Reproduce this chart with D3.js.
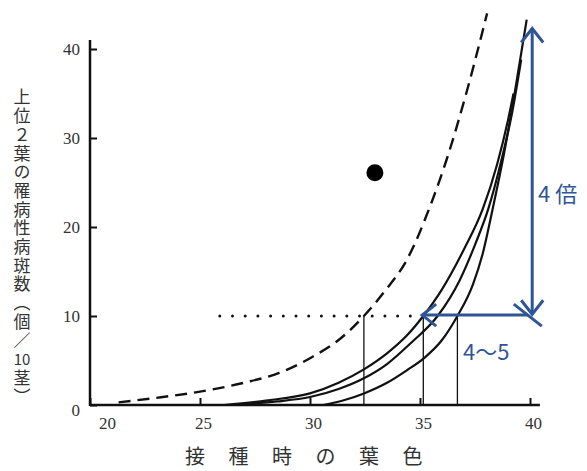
<!DOCTYPE html>
<html>
<head>
<meta charset="utf-8">
<script src="https://cdn.jsdelivr.net/npm/d3@7"></script>
<style>
  body { margin: 0; background: #fff; }
  svg { display: block; }
  .tick text { font-family: "Liberation Serif", "DejaVu Serif", serif; font-size: 17px; fill: #333; }
  .tick line { stroke: #111; stroke-width: 2; }
  .jp { font-family: "Noto Sans CJK JP", sans-serif; font-size: 17px; fill: #333; }
  .vert { writing-mode: vertical-rl; text-orientation: mixed; letter-spacing: 1.7px; }
  .note { font-family: "Noto Sans CJK JP", "Noto Sans", sans-serif; font-size: 22px; fill: #2f5597; }
</style>
</head>
<body>
<svg id="chart"></svg>
<script>
// axis ticks
const xTicks = [20, 25, 30, 35, 40];
const yTicks = [0, 10, 20, 30, 40];

// curves: [leaf colour, lesions per 10 stems]
const dashedCurve = [[21.3, 0.3], [23, 0.8], [25, 1.5], [27, 2.5], [28.6, 3.6], [30.1, 5.4], [31.4, 7.5],
  [32.45, 10], [33.4, 12.8], [34.4, 16.3], [35.5, 22.6], [36.2, 27.5], [37.1, 35], [38.05, 44]];
const solidA = [[26.1, 0], [28, 0.5], [30, 1.3], [31.3, 2.5], [32.45, 4.0], [33.5, 5.8], [34.4, 7.8],
  [35.15, 10], [36, 13], [37, 17.5], [37.85, 22], [38.5, 27], [39, 32], [39.25, 35]];
const solidB = [[26.4, 0], [28.5, 0.4], [30, 0.9], [31.3, 1.8], [32.45, 3.0], [33.5, 4.6], [34.6, 7],
  [35.8, 10], [36.8, 14], [37.5, 18], [38.1, 22], [38.7, 27.5], [39.2, 33], [39.6, 38.8]];
const solidC = [[30.6, 0], [31.5, 0.5], [32.45, 1.3], [33.5, 2.5], [34.4, 3.9], [35.2, 5.3], [36, 7.3],
  [36.7, 10], [37.4, 13.5], [37.85, 17], [38.3, 22], [38.8, 28], [39.3, 35], [39.85, 43.3]];

// reference lines at 10 lesions
const dottedFrom = 25.9;
const dropLines = [32.45, 35.15, 36.7];
const dotPoint = [32.95, 26.1];

const yTitleTop = '上位２葉の罹病性病斑数（個／';
const yTitleNum = '10';
const yTitleEnd = '茎）';
const xTitle = ['接', '種', '時', 'の', '葉', '色'];

const width = 587, height = 471;
const svg = d3.select('#chart').attr('width', width).attr('height', height);

const x = d3.scaleLinear().domain([20, 40]).range([90, 530]);
const y = d3.scaleLinear().domain([0, 10]).range([405, 316]);

// axes (ticks point inward)
svg.append('g')
    .attr('transform', `translate(0,${y(0)})`)
    .call(d3.axisBottom(x).tickValues(xTicks).tickSize(-7).tickSizeOuter(0).tickPadding(12))
    .call(g => g.select('.domain').remove())
    .call(g => g.selectAll('.tick text').attr('dx', d => d === 20 ? 17 : 3));

svg.append('g')
    .attr('transform', `translate(${x(20)},0)`)
    .call(d3.axisLeft(y).tickValues(yTicks).tickSize(-7).tickSizeOuter(0).tickPadding(10))
    .call(g => g.select('.domain').remove())
    .call(g => g.selectAll('.tick text').attr('dy', d => d === 0 ? '0.6em' : '0.32em'));

svg.append('line')
    .attr('x1', x(20)).attr('x2', x(40.45))
    .attr('y1', y(0)).attr('y2', y(0))
    .attr('stroke', '#111').attr('stroke-width', 2.5);

svg.append('line')
    .attr('x1', x(20)).attr('x2', x(20))
    .attr('y1', y(0) + 1).attr('y2', y(41))
    .attr('stroke', '#111').attr('stroke-width', 2.5);

// curves
const line = d3.line()
    .x(d => x(d[0]))
    .y(d => y(d[1]))
    .curve(d3.curveMonotoneX);

svg.append('path')
    .attr('d', line(dashedCurve))
    .attr('fill', 'none')
    .attr('stroke', '#111')
    .attr('stroke-width', 2.4)
    .attr('stroke-dasharray', '12 7');

[solidA, solidB, solidC].forEach(c => {
  svg.append('path')
      .attr('d', line(c))
      .attr('fill', 'none')
      .attr('stroke', '#111')
      .attr('stroke-width', 2.2);
});

// dotted line at 10
svg.append('line')
    .attr('x1', x(dottedFrom)).attr('x2', x(35))
    .attr('y1', y(10)).attr('y2', y(10))
    .attr('stroke', '#111')
    .attr('stroke-width', 3)
    .attr('stroke-linecap', 'round')
    .attr('stroke-dasharray', '0 12.7');

svg.selectAll('.drop')
    .data(dropLines)
    .enter().append('line')
    .attr('class', 'drop')
    .attr('x1', d => x(d)).attr('x2', d => x(d))
    .attr('y1', y(10)).attr('y2', y(0))
    .attr('stroke', '#111')
    .attr('stroke-width', 1.3);

svg.append('circle')
    .attr('cx', x(dotPoint[0]))
    .attr('cy', y(dotPoint[1]))
    .attr('r', 8.5)
    .attr('fill', '#000');

// y title, written vertically; "10" sits upright in one cell
const step = 18.7, firstCenter = 97;
svg.append('text')
    .attr('class', 'jp vert')
    .attr('x', 22)
    .attr('y', firstCenter - 8.5)
    .text(yTitleTop);

svg.append('text')
    .attr('class', 'jp')
    .attr('x', 22)
    .attr('y', firstCenter + yTitleTop.length * step)
    .attr('text-anchor', 'middle')
    .attr('dominant-baseline', 'central')
    .style('font-size', '15px')
    .text(yTitleNum);

svg.append('text')
    .attr('class', 'jp vert')
    .attr('x', 22)
    .attr('y', firstCenter + (yTitleTop.length + 1) * step - 8.5)
    .text(yTitleEnd);

svg.selectAll('.xtitle')
    .data(xTitle)
    .enter().append('text')
    .attr('class', 'jp xtitle')
    .attr('x', (d, i) => 195 + i * 43.5)
    .attr('y', 455)
    .attr('text-anchor', 'middle')
    .attr('dominant-baseline', 'central')
    .style('font-size', '20px')
    .text(d => d);

// blue annotation arrows
const blue = '#2f5597';
const ax = x(40.1), aTop = y(42.3), aBot = y(10.2);
const hy = y(10.1), hLeft = x(35.1), hRight = x(39.9);
const arrows = svg.append('g').attr('fill', 'none').attr('stroke', blue).attr('stroke-width', 3);
arrows.append('line').attr('x1', ax).attr('x2', ax).attr('y1', aTop).attr('y2', aBot);
arrows.append('path').attr('d', `M${ax - 11},${aTop + 14}L${ax},${aTop}L${ax + 11},${aTop + 14}`);
arrows.append('path').attr('d', `M${ax - 11},${aBot - 14}L${ax},${aBot}L${ax + 11},${aBot - 14}`);
arrows.append('line').attr('x1', hLeft).attr('x2', hRight).attr('y1', hy).attr('y2', hy);
arrows.append('path').attr('d', `M${hLeft + 14},${hy - 11}L${hLeft},${hy}L${hLeft + 14},${hy + 11}`);
arrows.append('path').attr('d', `M${hRight - 14},${hy - 11}L${hRight},${hy}L${hRight + 14},${hy + 11}`);

svg.append('text')
    .attr('class', 'note')
    .attr('x', 538).attr('y', 192)
    .attr('dominant-baseline', 'central')
    .text('4 倍');

svg.append('text')
    .attr('class', 'note')
    .attr('x', 463).attr('y', 350)
    .attr('dominant-baseline', 'central')
    .text('4～5');
</script>
</body>
</html>
